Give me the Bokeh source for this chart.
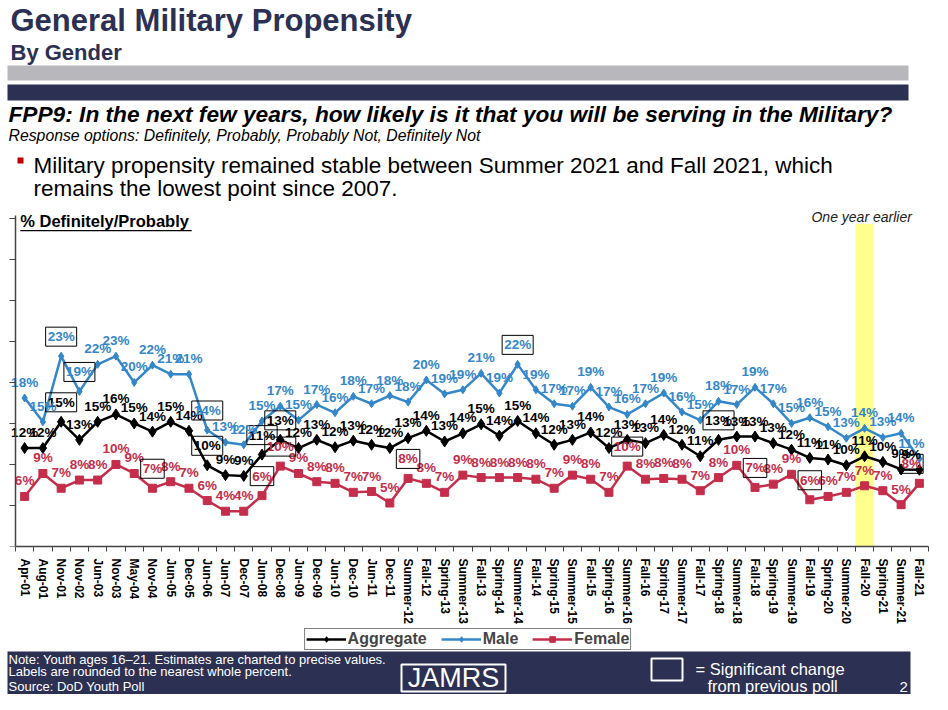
from bokeh.plotting import figure
from bokeh.models import Range1d, FixedTicker, Legend, LegendItem, ColumnDataSource
from bokeh.layouts import column
from bokeh.embed import file_html
from bokeh.resources import INLINE
from bokeh.core.properties import value

# ---------------- data ----------------
periods = ["Apr-01", "Aug-01", "Nov-01", "Nov-02", "Jun-03", "Nov-03", "May-04", "Nov-04",
           "Jun-05", "Dec-05", "Jun-06", "Jun-07", "Dec-07", "Jun-08", "Dec-08", "Jun-09",
           "Dec-09", "Jun-10", "Dec-10", "Jun-11", "Dec-11", "Summer-12", "Fall-12",
           "Spring-13", "Summer-13", "Fall-13", "Spring-14", "Summer-14", "Fall-14",
           "Spring-15", "Summer-15", "Fall-15", "Spring-16", "Summer-16", "Fall-16",
           "Spring-17", "Summer-17", "Fall-17", "Spring-18", "Summer-18", "Fall-18",
           "Spring-19", "Summer-19", "Fall-19", "Spring-20", "Summer-20", "Fall-20",
           "Spring-21", "Summer-21", "Fall-21"]

aggregate = [12.0, 12.0, 15.2, 13.0, 15.2, 16.1, 15.0, 14.0, 15.2, 14.1,
             9.9, 8.7, 8.6, 11.2, 13.0, 12.0, 13.0, 12.1, 12.9, 12.4,
             12.0, 13.2, 14.1, 12.8, 13.8, 14.9, 13.5, 15.3, 13.8, 12.4,
             13.0, 13.9, 12.0, 13.0, 12.6, 13.6, 12.4, 11.0, 13.0, 13.4,
             13.4, 12.6, 11.8, 10.8, 10.6, 9.9, 11.0, 10.3, 9.4, 9.35]

male = [18.1, 15.2, 23.2, 18.9, 22.2, 23.2, 20.0, 22.1, 21.0, 21.0,
        14.2, 12.7, 12.4, 15.3, 17.1, 15.4, 17.3, 16.3, 18.3, 17.4,
        18.4, 17.6, 20.3, 18.6, 19.1, 21.1, 18.7, 22.2, 19.1, 17.4,
        17.1, 19.4, 17.0, 16.1, 17.4, 18.7, 16.4, 15.4, 17.7, 17.3,
        19.4, 17.4, 15.0, 15.7, 14.6, 13.2, 14.4, 13.3, 13.8, 10.7]

female = [6.1, 8.9, 7.1, 8.1, 8.1, 10.0, 8.9, 7.1, 7.9, 7.1,
          5.6, 4.3, 4.3, 6.2, 9.8, 8.9, 7.9, 7.7, 6.6, 6.7,
          5.3, 8.3, 7.7, 6.6, 8.7, 8.4, 8.4, 8.4, 8.2, 7.1,
          8.7, 8.2, 6.6, 9.8, 8.2, 8.3, 8.2, 6.8, 8.4, 9.9,
          7.2, 7.6, 8.8, 5.7, 6.1, 6.6, 7.4, 6.8, 5.1, 7.7]

# significant change from previous poll (boxed labels)
aggregate_sig = ["Nov-01", "Jun-06", "Jun-08", "Dec-08", "Spring-18"]
male_sig = ["Nov-01", "Nov-02", "Jun-06", "Summer-14"]
female_sig = ["Nov-04", "Jun-08", "Dec-08", "Summer-12", "Summer-16", "Fall-18",
              "Fall-19", "Fall-21"]

highlight_period = "Fall-20"
y_ticks = [0, 5, 10, 15, 20, 25, 30, 35, 40]

# ---------------- style ----------------
FONT = value("Liberation Sans")
NAVY = "#2c3052"
GRAY = "#b8b8bc"
BLACK = "#000000"
BLUE = "#3487c9"
RED = "#c42e4b"
YELLOW = "#ffff8c"

W = 930
BL, BR = 7, 2          # chart borders; the column aligns every frame to these


def deco(h, y0):
    f = figure(width=W, height=h, x_range=Range1d(BL, W - BR), y_range=Range1d(y0 + h, y0),
               x_axis_type=None, y_axis_type=None, min_border_left=BL, min_border_right=BR,
               min_border_top=0, min_border_bottom=0, outline_line_color=None,
               toolbar_location=None, output_backend="svg")
    f.grid.visible = False
    return f


def txt(f, x, y, s, size, style="normal", color="black", align="left"):
    f.text(x=x, y=y, text=s, text_font=FONT, text_font_style=style,
           text_font_size=size, text_color=color, text_align=align, text_baseline="middle")


# ---------------- header (screen coordinates) ----------------
hdr = deco(208, 0)
txt(hdr, [10], [20], ["General Military Propensity"], "31px", "bold", NAVY)
txt(hdr, [10], [51.5], ["By Gender"], "22px", "bold", NAVY)
hdr.quad(left=[0], right=[908], top=[65], bottom=[80], fill_color=GRAY, line_color=None)
hdr.quad(left=[0], right=[908], top=[84], bottom=[100], fill_color=NAVY, line_color=None)
txt(hdr, [8], [113.5],
    ["FPP9:  In the next few years, how likely is it that you will be serving in the Military?"],
    "22.7px", "bold italic")
txt(hdr, [8], [134.5],
    ["Response options:  Definitely, Probably, Probably Not, Definitely Not"], "15.8px", "italic")
hdr.quad(left=[17], right=[23], top=[157], bottom=[163], fill_color="#c00000", line_color=None)
txt(hdr, [33, 33], [164.5, 187.5],
    ["Military propensity remained stable between Summer 2021 and Fall 2021, which",
     "remains the lowest point since 2007."], "22.5px")

# ---------------- chart ----------------
n = len(periods)
xs = list(range(n))
PX = 18.26   # px per period
p = figure(frame_width=W - BL - BR, frame_height=338,
           x_range=Range1d(-0.5 - (15 - BL) / PX, n - 0.5), y_range=Range1d(0, 41.2),
           min_border_left=BL, min_border_right=BR, min_border_top=0, min_border_bottom=82,
           toolbar_location=None, output_backend="svg", outline_line_color=None)
p.grid.visible = False

hi = periods.index(highlight_period)
p.quad(left=[hi - 0.5], right=[hi + 0.5], bottom=[0], top=[39.3], fill_color=YELLOW,
       line_color=None)

series = [("Aggregate", aggregate, BLACK, "diamond", 11, aggregate_sig),
          ("Male", male, BLUE, "diamond", 8, male_sig),
          ("Female", female, RED, "square", 8, female_sig)]

for name, vals, col, marker, size, sig in series:
    src = ColumnDataSource(dict(x=xs, y=vals))
    p.line("x", "y", source=src, line_color=col, line_width=2.5)
    p.scatter("x", "y", source=src, marker=marker, size=size, fill_color=col, line_color=col)

for name, vals, col, marker, size, sig in series:
    labels = [f"{round(v)}%" for v in vals]
    for boxed in (False, True):
        idx = [i for i in xs if (periods[i] in sig) == boxed]
        src = ColumnDataSource(dict(x=[xs[i] for i in idx], y=[vals[i] for i in idx],
                                    t=[labels[i] for i in idx],
                                    dx=[-8 if i == n - 1 else 0 for i in idx]))
        extra = dict(border_line_color="black", border_line_width=1, padding=2) if boxed else {}
        p.text("x", "y", text="t", source=src, x_offset="dx", y_offset=-10 if boxed else -8,
               text_font=FONT, text_font_style="bold", text_font_size="13.5px",
               text_color=col, text_align="center", text_baseline="bottom", **extra)

txt(p, [-0.24], [39.71], ["% Definitely/Probably"], "16.5px", "bold")
p.segment(x0=[-0.24], x1=[9.15], y0=[38.5], y1=[38.5], line_color="black", line_width=1.3)
txt(p, [hi - 0.16], [40.2], ["One year earlier"], "14px", "italic", "#222222", "center")

xa = p.xaxis[0]
xa.ticker = FixedTicker(ticks=xs, minor_ticks=[i - 0.5 for i in range(n + 1)])
xa.bounds = (-0.5, n - 0.5)
xa.major_label_overrides = {i: periods[i] for i in xs}
xa.major_label_orientation = "vertical"
xa.major_label_text_font = "Liberation Sans"
xa.major_label_text_font_style = "bold"
xa.major_label_text_font_size = "12px"
xa.major_label_text_color = "black"
xa.major_label_standoff = 7
xa.major_tick_line_color = None
xa.major_tick_out = 0
xa.major_tick_in = 0
xa.minor_tick_out = 5
xa.minor_tick_in = 0
xa.minor_tick_line_color = "#444444"
xa.axis_line_color = "#444444"
xa.axis_line_width = 1.5

ya = p.yaxis[0]
ya.fixed_location = -0.5
ya.bounds = (0, 40.4)
ya.ticker = FixedTicker(ticks=y_ticks)
ya.major_label_overrides = {t: "" for t in y_ticks}
ya.major_label_standoff = 0
ya.major_tick_out = 6
ya.major_tick_in = 0
ya.major_tick_line_color = "#444444"
ya.minor_tick_line_color = None
ya.axis_line_color = "#444444"
ya.axis_line_width = 1.5

# ---------------- legend strip ----------------
# the series are drawn here too, but fall outside this strip's range (only the legend shows)
leg = deco(22, 628)
items = []
for name, vals, col, marker, size, sig in series:
    lr = leg.line(x=xs, y=vals, line_color=col, line_width=2.5)
    sr = leg.scatter(x=xs, y=vals, marker=marker, size=size, fill_color=col, line_color=col)
    items.append(LegendItem(label=name, renderers=[lr, sr]))
legend = Legend(items=items, orientation="horizontal", location="center",
                border_line_color="black", border_line_width=1.5,
                label_text_font="Liberation Sans", label_text_font_style="bold",
                label_text_font_size="16px", glyph_width=40, glyph_height=14,
                label_standoff=2, spacing=14, padding=1, margin=0)
leg.add_layout(legend)

# ---------------- footer (screen coordinates) ----------------
ftr = deco(44, 650)
ftr.quad(left=[0], right=[910], top=[651], bottom=[694], fill_color=NAVY, line_color=None)
txt(ftr, [8, 8, 8], [659, 671, 686],
    ["Note:  Youth ages 16\u201321.  Estimates are charted to precise values.",
     "Labels are rounded to the nearest whole percent.",
     "Source:  DoD Youth Poll"], "13px", color="white")
ftr.quad(left=[401], right=[505], top=[664], bottom=[691], fill_color=None,
         line_color="white", line_width=2)
txt(ftr, [453], [677.5], ["JAMRS"], "27px", color="white", align="center")
ftr.quad(left=[651], right=[682], top=[658], bottom=[680], fill_color=None,
         line_color="white", line_width=2)
txt(ftr, [695, 707], [668, 685], ["= Significant change", "from previous poll"], "16.5px",
    color="white")
txt(ftr, [899], [686], ["2"], "15px", color="white")

layout = column(hdr, p, leg, ftr, spacing=0)
open("out.html", "w").write(file_html(layout, INLINE))
